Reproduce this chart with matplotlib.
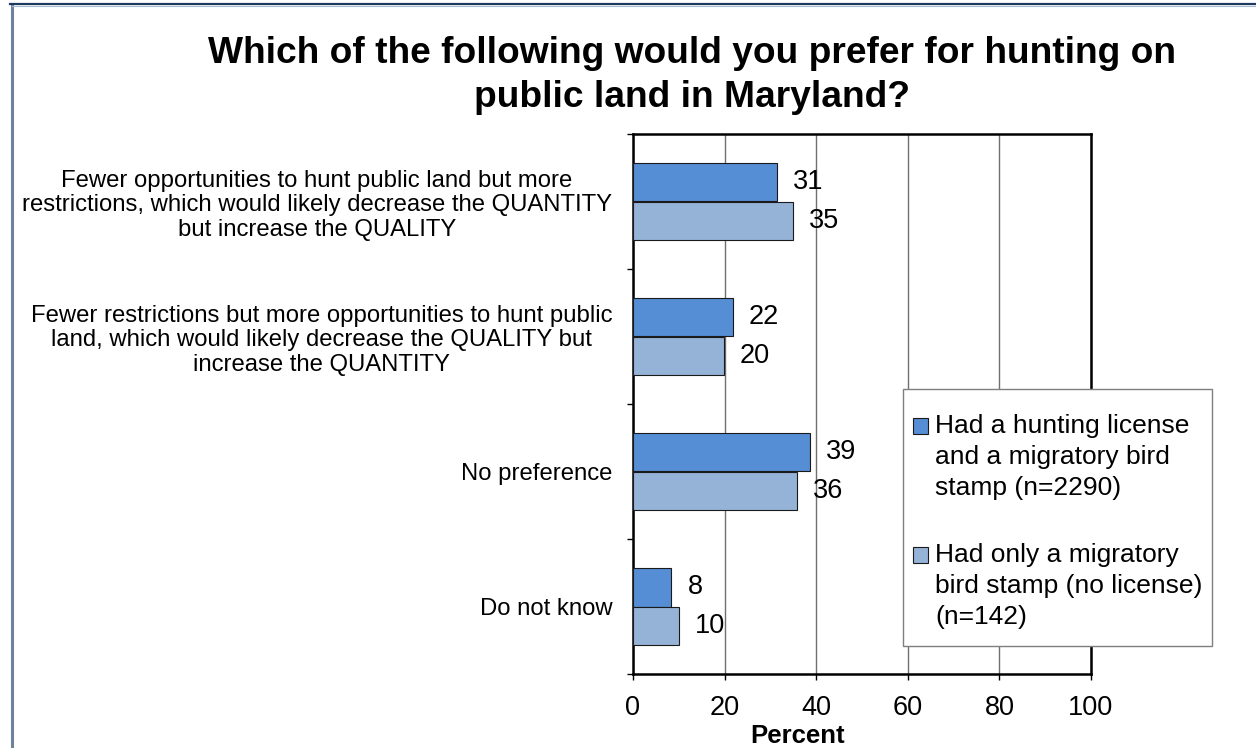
import matplotlib
matplotlib.use("Agg")
import matplotlib.pyplot as plt
from matplotlib.lines import Line2D
from matplotlib.patches import Rectangle
from matplotlib.legend_handler import HandlerPatch
import numpy as np

plt.rcParams['font.family'] = ['Liberation Sans', 'DejaVu Sans']

categories = [
    "Fewer opportunities to hunt public land but more\nrestrictions, which would likely decrease the QUANTITY\nbut increase the QUALITY",
    "Fewer restrictions but more opportunities to hunt public\nland, which would likely decrease the QUALITY but\nincrease the QUANTITY",
    "No preference",
    "Do not know",
]
series_names = [
    "Had a hunting license\nand a migratory bird\nstamp (n=2290)",
    "Had only a migratory\nbird stamp (no license)\n(n=142)",
]
license_and_stamp = [31.4, 21.8, 38.7, 8.4]
stamp_only = [34.9, 19.8, 35.7, 10.1]
xticks = [0, 20, 40, 60, 80, 100]

colors = ["#558ed5", "#95b3d7"]

W, H = 1256, 748
fig = plt.figure(figsize=(W / 100, H / 100), dpi=100)
ax = fig.add_axes([633 / W, 1 - 674 / H, (1091 - 633) / W, (674 - 134) / H])

y = np.arange(len(categories))
bh = 0.285
b1 = ax.barh(y - bh / 2, license_and_stamp, height=bh, color=colors[0],
             edgecolor="#1a1a1a", linewidth=0.8, label=series_names[0], zorder=3)
b2 = ax.barh(y + bh / 2, stamp_only, height=bh, color=colors[1],
             edgecolor="#1a1a1a", linewidth=0.8, label=series_names[1], zorder=3)
for b in (b1, b2):
    ax.bar_label(b, fmt="{:.0f}", padding=11.5, fontsize=19.5, color="black")

ax.set_xlim(0, 100)
ax.set_ylim(len(categories) - 0.5, -0.5)
ax.set_xticks(xticks)
ax.set_xticklabels([str(t) for t in xticks], fontsize=19.5)
ax.tick_params(axis="x", length=4, width=1, pad=11, direction="out")
ax.set_yticks(y)
ax.set_yticklabels(categories, fontsize=17.2, ha="right", multialignment="center",
                   linespacing=1.17)
ax.tick_params(axis="y", which="major", length=0, pad=15)
ax.set_yticks(np.arange(len(categories) + 1) - 0.5, minor=True)
ax.tick_params(axis="y", which="minor", length=4, width=1, direction="out")

ax.xaxis.grid(True, color="#6f6f6f", linewidth=1.0, zorder=0)
ax.set_axisbelow(True)
for s in ax.spines.values():
    s.set_linewidth(1.8)
    s.set_color("black")

ax.set_xlabel("Percent", fontsize=18.5, fontweight="bold")
ax.xaxis.set_label_coords((798 - 633) / (1091 - 633), -0.093)

fig.text(692 / W, 1 - 36 / H,
         "Which of the following would you prefer for hunting on\npublic land in Maryland?",
         ha="center", va="top", fontsize=26.7, fontweight="bold", linespacing=1.35)

# legend frame (drawn as a box behind the legend entries)
frame = Rectangle((903 / W, 1 - 646 / H), (1212 - 903) / W, (646 - 389) / H,
                  transform=fig.transFigure, facecolor="white", edgecolor="#7f7f7f",
                  linewidth=1.0, clip_on=False, zorder=4)
ax.add_artist(frame)

leg_fs = 19
shift = 22.5


def top_patch(legend, orig_handle, xdescent, ydescent, width, height, fontsize):
    return Rectangle((-xdescent, -ydescent + shift), width, height)


leg = ax.legend([b1.patches[0], b2.patches[0]], series_names,
                loc="upper left", bbox_to_anchor=(913 / W, 1 - 414 / H),
                bbox_transform=fig.transFigure, borderaxespad=0, borderpad=0,
                fontsize=leg_fs, frameon=False,
                handlelength=0.55, handleheight=0.55,
                handletextpad=0.3, labelspacing=1.62,
                handler_map={Rectangle: HandlerPatch(patch_func=top_patch)})
leg.set_zorder(5)
for t in leg.get_texts():
    t.set_linespacing(1.37)

# outer frame
fig.add_artist(Line2D([11.5 / W, 11.5 / W], [0, 1 - 4 / H], color="#6f829c",
                      linewidth=2.2, transform=fig.transFigure))
fig.add_artist(Line2D([10 / W, 1], [1 - 4 / H, 1 - 4 / H], color="#1f3a5f",
                      linewidth=1.6, transform=fig.transFigure))
fig.add_artist(Line2D([12 / W, 1], [1 - 5.8 / H, 1 - 5.8 / H], color="#a8bcd2",
                      linewidth=0.8, transform=fig.transFigure))

fig.savefig("out.png", dpi=100)
